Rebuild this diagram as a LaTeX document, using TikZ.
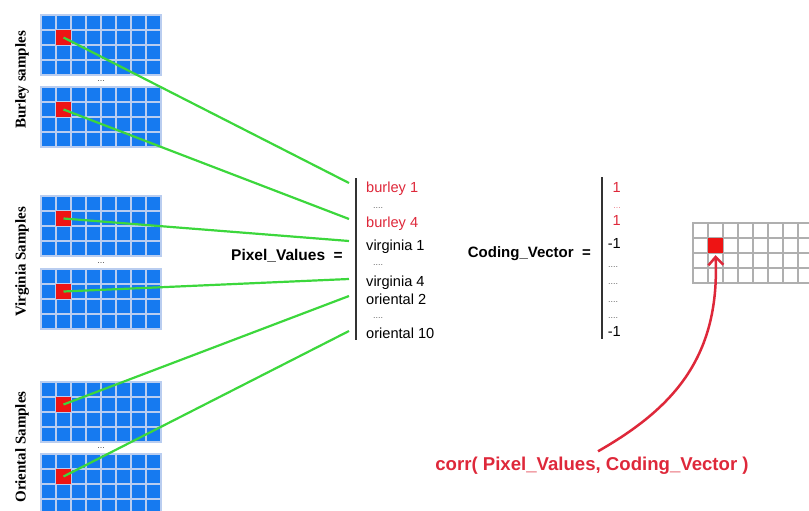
\documentclass[tikz,border=0pt]{standalone}
\usepackage{fontspec}
\setmainfont{Liberation Serif}
\setsansfont{Liberation Sans}
\usepackage{tikz}
\usetikzlibrary{positioning,arrows.meta,calc}
\definecolor{gridblue}{RGB}{22,122,240}
\definecolor{gridline}{RGB}{185,205,240}
\definecolor{gridgray}{RGB}{175,175,175}
\definecolor{pixred}{RGB}{238,20,20}
\definecolor{linkgreen}{RGB}{60,215,60}
\definecolor{labred}{RGB}{222,40,58}
% 8 x 4 pixel grid, #1,#2 = top left corner, #3 = fill, #4 = lines
\newcommand{\pixgrid}[4]{%
  \fill[#3] (#1,#2) rectangle ++(120,60);
  \foreach \k in {1,...,7} \draw[#4, line width=1.2pt] ({#1+15*\k},#2) -- ++(0,60);
  \foreach \k in {1,2,3} \draw[#4, line width=1.2pt] (#1,{#2+15*\k}) -- ++(120,0);
  \draw[#4, line width=1.2pt] (#1,#2) rectangle ++(120,60);
}

\begin{document}
\begin{tikzpicture}[x=1pt, y=-1pt,
  pix/.style={fill=pixred, minimum size=15pt, inner sep=0pt},
  link/.style={draw=linkgreen, line width=2.2pt},
  vbar/.style={line width=2pt, draw=black!80},
  entry/.style={anchor=base west, inner sep=0pt, font=\sffamily\fontsize{14.6}{16}\selectfont},
  num/.style={anchor=base east, inner sep=0pt, font=\sffamily\fontsize{14.6}{16}\selectfont},
  skipdots/.style={inner sep=0pt, font=\sffamily\fontsize{9}{10}\selectfont, text=black!60},
  vname/.style={anchor=base east, inner sep=0pt, font=\sffamily\bfseries\fontsize{15}{17}\selectfont},
  classlab/.style={rotate=90, inner sep=0pt, font=\bfseries\fontsize{15}{17}\selectfont},
  corrarrow/.style={draw=labred, line width=2.5pt, -{Straight Barb[length=8pt,width=15pt]}}]
\useasboundingbox (0,0) rectangle (809,511);

% samples
\pixgrid{41}{15}{gridblue}{gridline}
\pixgrid{41}{87}{gridblue}{gridline}
\pixgrid{41}{196}{gridblue}{gridline}
\pixgrid{41}{269}{gridblue}{gridline}
\pixgrid{41}{382}{gridblue}{gridline}
\pixgrid{41}{454}{gridblue}{gridline}
\node[pix] (bur1) at (63.5,37.5) {};
\node[pix] (bur2) at (63.5,109.5) {};
\node[pix] (vir1) at (63.5,218.5) {};
\node[pix] (vir2) at (63.5,291.5) {};
\node[pix] (ori1) at (63.5,404.5) {};
\node[pix] (ori2) at (63.5,476.5) {};
\node[skipdots, text=black!70] (burgap) at (101,81) {...};
\node[skipdots, text=black!70] (virgap) at (101,263) {...};
\node[skipdots, text=black!70] (origap) at (101,448) {...};
\node[classlab] (burlab) at (22,80) {Burley samples};
\node[classlab] (virlab) at (22,262) {Virginia Samples};
\node[classlab] (orilab) at (22,447) {Oriental Samples};

% pixel values vector
\node[vname, font=\sffamily\bfseries\fontsize{15.5}{17}\selectfont] (pvname) at (343,260) {Pixel\_Values\ \ =};
\draw[vbar] (356,178) coordinate (pvtop) -- (356,340) coordinate (pvbot);
\node[entry, text=labred] (pv1) at (366,192) {burley 1};
\node[skipdots] (pvd1) at (378,208) {....};
\node[entry, text=labred] (pv2) at (366,227) {burley 4};
\node[entry] (pv3) at (366,250) {virginia 1};
\node[skipdots] (pvd2) at (378,265) {....};
\node[entry] (pv4) at (366,286) {virginia 4};
\node[entry] (pv5) at (366,304) {oriental 2};
\node[skipdots] (pvd3) at (378,318) {....};
\node[entry] (pv6) at (366,338) {oriental 10};
\coordinate (e1) at (349,183);
\coordinate (e2) at (349,219);
\coordinate (e3) at (349,241);
\coordinate (e4) at (349,279);
\coordinate (e5) at (349,296);
\coordinate (e6) at (349,331);
\draw[link] (bur1.center) -- (e1);
\draw[link] (bur2.center) -- (e2);
\draw[link] (vir1.center) -- (e3);
\draw[link] (vir2.center) -- (e4);
\draw[link] (ori1.center) -- (e5);
\draw[link] (ori2.center) -- (e6);

% coding vector
\node[vname] (cvname) at (591,257) {Coding\_Vector\ \ =};
\draw[vbar] (602,177) coordinate (cvtop) -- (602,339) coordinate (cvbot);
\node[num, text=labred] (cv1) at (621,192) {1};
\node[skipdots, text=labred!60] (cvd1) at (617,208) {...};
\node[num, text=labred] (cv2) at (621,225) {1};
\node[num] (cv3) at (621,248) {-1};
\node[skipdots] (cvd2) at (613,267) {....};
\node[skipdots] (cvd3) at (613,284) {....};
\node[skipdots] (cvd4) at (613,302) {....};
\node[skipdots] (cvd5) at (613,318) {....};
\node[num] (cv4) at (621,336) {-1};

% correlation map
\pixgrid{693}{223}{white}{gridgray}
\node[pix] (target) at (715.5,245.5) {};
\node[anchor=base, inner sep=0pt, text=labred, font=\sffamily\bfseries\fontsize{18.6}{20}\selectfont]
  (corr) at (592,470) {corr( Pixel\_Values, Coding\_Vector )};
\draw[corrarrow] ([xshift=6pt,yshift=5pt]corr.north) .. controls (670,410) and (720,360) .. ([yshift=-2pt]target.south);
\end{tikzpicture}
\end{document}
